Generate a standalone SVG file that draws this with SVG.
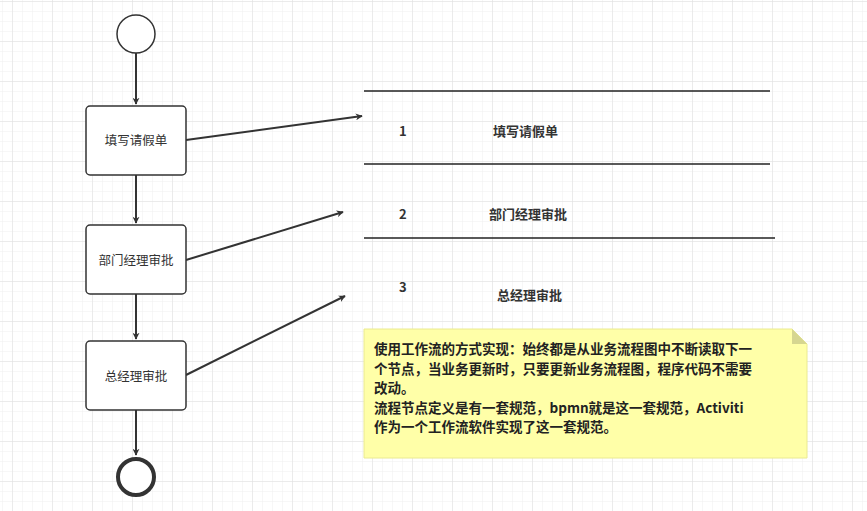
<svg xmlns="http://www.w3.org/2000/svg" width="867" height="511" viewBox="0 0 867 511">
<defs>
<pattern id="g" width="10" height="10" patternUnits="userSpaceOnUse"><path d="M10 0V10H0" fill="none" stroke="#efefef" stroke-width="1"/></pattern>
<pattern id="G" width="40" height="40" patternUnits="userSpaceOnUse" x="13" y="2"><rect width="40" height="40" fill="url(#g)"/><path d="M40 0V40H0" fill="none" stroke="#e0e0e0" stroke-width="1"/></pattern>
<marker id="a" viewBox="0 0 10 10" refX="9" refY="5" markerWidth="7" markerHeight="7" orient="auto" markerUnits="userSpaceOnUse"><path d="M0 0L10 5L0 10L3 5Z" fill="#333"/></marker>
<style>
.n{fill:#fff;stroke:#333;stroke-width:1.5}
.t{font-family:"Noto Sans CJK SC","Liberation Sans",sans-serif;font-size:12.5px;fill:#333;text-anchor:middle}
.b{font-family:"Noto Sans CJK SC","Liberation Sans",sans-serif;font-size:13px;font-weight:bold;fill:#333}
.m{font-family:"Noto Sans CJK SC","Liberation Sans",sans-serif;font-size:13.5px;font-weight:bold;fill:#222}
.c{stroke:#333;stroke-width:2;fill:none;marker-end:url(#a)}
.l{stroke:#222;stroke-width:1.5}
</style>
</defs>
<rect width="867" height="511" fill="#fff"/>
<rect width="867" height="511" fill="url(#G)"/>
<g id="connectors">
<path class="c" d="M136 53V104"/>
<path class="c" d="M136 175V223"/>
<path class="c" d="M136 294V339"/>
<path class="c" d="M136 410V455"/>
<path class="c" d="M186 140L362 116"/>
<path class="c" d="M186 260L343 212"/>
<path class="c" d="M186 375L345 296"/>
</g>
<g id="start"><circle class="n" cx="136" cy="34" r="19"/></g>
<g id="n1"><rect class="n" x="86" y="106" width="100" height="69" rx="4"/><text class="t" x="136" y="145">填写请假单</text></g>
<g id="n2"><rect class="n" x="86" y="225" width="100" height="69" rx="4"/><text class="t" x="136" y="265">部门经理审批</text></g>
<g id="n3"><rect class="n" x="86" y="341" width="100" height="69" rx="4"/><text class="t" x="136" y="381">总经理审批</text></g>
<g id="end"><circle cx="136" cy="477" r="18" fill="#fff" stroke="#333" stroke-width="4"/></g>
<g id="table">
<line class="l" x1="364" y1="91" x2="770" y2="91"/>
<line class="l" x1="364" y1="164" x2="770" y2="164"/>
<line class="l" x1="364" y1="238" x2="775" y2="238"/>
<text class="b" x="399" y="136">1</text><text class="b" x="493" y="136">填写请假单</text>
<text class="b" x="399" y="219">2</text><text class="b" x="489" y="219">部门经理审批</text>
<text class="b" x="399" y="292">3</text><text class="b" x="497" y="300">总经理审批</text>
</g>
<g id="note">
<path d="M364 329H792L807 344V458H364Z" fill="#ffffa8" stroke="#eaea90"/>
<path d="M792 329V344H807Z" fill="#d6d690"/>
<text class="m" x="374" y="354">使用工作流的方式实现：始终都是从业务流程图中不断读取下一</text>
<text class="m" x="374" y="373.5">个节点，当业务更新时，只要更新业务流程图，程序代码不需要</text>
<text class="m" x="374" y="393">改动。</text>
<text class="m" x="374" y="412.5">流程节点定义是有一套规范，bpmn就是这一套规范，Activiti</text>
<text class="m" x="374" y="432">作为一个工作流软件实现了这一套规范。</text>
</g>
</svg>
